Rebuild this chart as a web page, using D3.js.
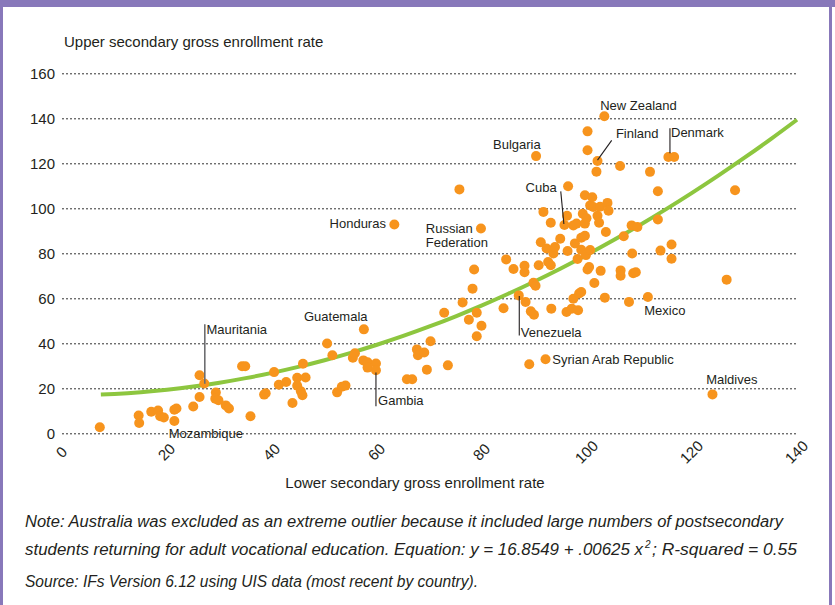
<!DOCTYPE html>
<html>
<head>
<meta charset="utf-8">
<script src="https://cdn.jsdelivr.net/npm/d3@7/dist/d3.min.js"></script>
<style>
  html, body { margin: 0; padding: 0; background: #fff; }
  svg { display: block; }
  text { font-family: "Liberation Sans", Arial, sans-serif; fill: #231f20; }
</style>
</head>
<body>
<svg id="chart" width="835" height="605"></svg>
<script>
// Country points: lower secondary (x) vs upper secondary (y) gross enrollment rate
const lowerRate = [
  7.2, 14.6, 14.7, 17.0, 18.3, 18.7, 19.4, 21.4, 21.8, 21.4,
  25.0, 26.2, 26.2, 27.1, 29.3, 29.2, 29.8, 31.2, 31.8, 34.3,
  34.9, 35.9, 38.5, 38.8, 40.4, 41.3, 42.7, 43.9, 44.8, 44.8,
  45.5, 45.8, 45.9, 46.4, 50.5, 51.5, 52.4, 53.3, 54.0, 55.4,
  55.8, 57.5, 57.4, 58.2, 58.2, 59.8, 59.8, 63.3, 65.7, 66.7,
  67.6, 67.8, 69.0, 69.5, 70.2, 72.8, 73.5, 75.7, 76.3, 77.5,
  78.2, 78.5, 79.0, 79.0, 79.9, 79.8, 84.1, 84.6, 86.0, 87.0,
  88.1, 88.1, 88.3, 89.0, 89.3, 89.9, 89.8, 90.2, 90.3, 90.8,
  91.2, 91.7, 92.1, 92.3, 92.6, 93.1, 93.1, 93.2, 93.6, 93.9,
  94.9, 95.7, 96.2, 96.4, 96.1, 96.3, 97.1, 97.4, 97.4, 97.7,
  98.0, 98.2, 98.3, 98.5, 98.9, 98.9, 98.9, 99.2, 99.6, 99.6,
  99.6, 99.8, 99.9, 100.1, 100.1, 100.1, 100.4, 100.6, 100.6, 101.0,
  101.2, 101.4, 101.8, 102.0, 102.0, 102.3, 102.5, 102.6, 103.3, 103.4,
  103.6, 103.9, 104.1, 106.3, 106.4, 106.4, 107.0, 108.0, 108.5, 108.6,
  108.8, 109.3, 109.6, 111.6, 112.0, 113.5, 113.5, 114.0, 115.5, 116.6,
  116.1, 116.1, 123.9, 126.6, 128.2
];
const upperRate = [
  2.7, 7.9, 4.6, 9.6, 10.1, 7.6, 7.0, 10.5, 11.0, 5.5,
  11.9, 16.1, 25.8, 22.1, 18.1, 15.4, 14.7, 12.4, 11.0, 29.8,
  29.8, 7.6, 17.2, 17.8, 27.2, 21.6, 22.8, 13.5, 24.7, 21.1,
  18.7, 16.9, 30.9, 24.8, 39.9, 34.7, 18.2, 20.7, 21.2, 33.6,
  35.6, 46.2, 32.4, 31.6, 29.2, 31.0, 28.0, 92.8, 24.0, 24.0,
  37.3, 34.7, 35.9, 28.3, 40.9, 53.6, 30.2, 108.4, 58.1, 50.5,
  64.3, 72.8, 53.6, 43.1, 47.8, 91.0, 55.6, 77.3, 73.0, 61.3,
  74.5, 71.6, 58.4, 30.7, 54.2, 52.7, 66.9, 65.6, 123.2, 74.7,
  84.9, 98.4, 32.9, 82.1, 76.1, 74.7, 93.6, 55.4, 79.9, 82.8,
  86.5, 92.6, 96.7, 109.8, 53.9, 81.0, 55.4, 92.4, 59.8, 84.4,
  93.2, 77.5, 54.7, 62.1, 62.8, 86.9, 81.6, 97.6, 105.8, 93.2,
  87.8, 79.2, 95.6, 72.8, 134.2, 125.8, 73.9, 101.3, 81.5, 104.9,
  100.6, 66.8, 116.3, 121.0, 96.7, 93.6, 100.7, 72.2, 140.9, 60.3,
  89.5, 102.4, 98.9, 118.8, 72.4, 70.0, 87.6, 58.4, 92.4, 79.9,
  71.1, 71.6, 91.7, 60.6, 116.2, 107.6, 95.0, 81.2, 122.8, 122.8,
  83.9, 77.6, 17.3, 68.3, 108.0
];

const xTicks = [0, 20, 40, 60, 80, 100, 120, 140];
const yTicks = [0, 20, 40, 60, 80, 100, 120, 140, 160];

// Fitted quadratic: y = 16.8549 + 0.00625 x^2
const fitIntercept = 16.8549;
const fitCoef = 0.00625;
const fitXs = [7.4, 10, 15, 20, 25, 30, 35, 40, 45, 50, 55, 60, 65, 70, 75, 80, 85, 90,
               95, 100, 105, 110, 115, 120, 125, 130, 135, 140];

// Labelled countries
const countryNames = ["Mauritania", "Mozambique", "Guatemala", "Gambia", "Honduras",
  "Russian Federation", "Bulgaria", "Cuba", "New Zealand", "Finland", "Denmark",
  "Venezuela", "Syrian Arab Republic", "Mexico", "Maldives"];
const labelX = [27.5, 27.4, 58.2, 60.2, 61.7, 69.3, 82.1, 88.3, 102.5, 105.5, 116.0, 87.4, 93.4, 110.9, 122.7];
const labelY = [44.2, -2.0, 49.9, 12.6, 91.1, 89.2, 126.5, 107.3, 143.6, 131.3, 131.5, 42.7, 30.9, 52.7, 21.8];
const labelAnchor = ["start", "middle", "end", "start", "end", "start", "start", "start",
  "start", "start", "start", "start", "start", "start", "start"];

// Leader lines [x1, y1] -> [x2, y2]
const leaderX1 = [27.2, 59.8, 95.0, 104.7, 115.8, 87.1];
const leaderY1 = [48.5, 27.0, 107.5, 130.2, 135.6, 61.0];
const leaderX2 = [27.2, 59.8, 95.6, 102.0, 115.8, 87.1];
const leaderY2 = [22.0, 12.0, 93.0, 121.4, 124.5, 43.5];

const svg = d3.select("#chart");
const W = 835, H = 605;

const x = d3.scaleLinear().domain([0, 140]).range([62, 797]);
const y = d3.scaleLinear().domain([0, 160]).range([433.3, 73.3]);

// frame
svg.append("rect").attr("x", 0).attr("y", 0).attr("width", W).attr("height", 7).attr("fill", "#8878ba");
svg.append("rect").attr("x", 0).attr("y", 0).attr("width", 3).attr("height", H).attr("fill", "#8878ba");
svg.append("rect").attr("x", 829).attr("y", 0).attr("width", 3).attr("height", H).attr("fill", "#8878ba");

// y grid + labels
const yAxis = d3.axisLeft(y).tickValues(yTicks).tickSize(-(x.range()[1] - x.range()[0])).tickPadding(7);
const yg = svg.append("g").attr("transform", `translate(${x.range()[0]},0)`).call(yAxis);
yg.select(".domain").remove();
yg.selectAll(".tick line").attr("stroke", "#333").attr("stroke-width", 1).attr("stroke-dasharray", "2,2");
yg.selectAll(".tick text").attr("font-size", 15).attr("fill", "#231f20")
  .attr("font-family", '"Liberation Sans", Arial, sans-serif');

// x labels (rotated)
const xAxis = d3.axisBottom(x).tickValues(xTicks).tickSize(0).tickPadding(0);
const xg = svg.append("g").attr("transform", "translate(0,452)").call(xAxis);
xg.select(".domain").remove();
xg.selectAll(".tick text")
  .attr("font-size", 15).attr("fill", "#231f20")
  .attr("font-family", '"Liberation Sans", Arial, sans-serif')
  .attr("text-anchor", "middle").attr("dy", "0.35em")
  .attr("transform", "translate(-1,0) rotate(-45)");

// axis titles
svg.append("text").attr("x", 64).attr("y", 47).attr("font-size", 15)
  .text("Upper secondary gross enrollment rate");
svg.append("text").attr("x", 415).attr("y", 488).attr("font-size", 15).attr("text-anchor", "middle")
  .text("Lower secondary gross enrollment rate");

// fitted curve
const line = d3.line().x(d => x(d)).y(d => y(fitIntercept + fitCoef * d * d)).curve(d3.curveMonotoneX);
svg.append("path").attr("d", line(fitXs)).attr("fill", "none")
  .attr("stroke", "#8dc63f").attr("stroke-width", 4);

// points
const pts = lowerRate.map((v, i) => [v, upperRate[i]]);
svg.append("g").selectAll("circle").data(pts).join("circle")
  .attr("cx", d => x(d[0])).attr("cy", d => y(d[1])).attr("r", 5)
  .attr("fill", "#f7941d");

// country labels
const labelG = svg.append("g");
countryNames.forEach((name, i) => {
  const t = labelG.append("text").attr("font-size", 13).attr("text-anchor", labelAnchor[i])
    .attr("x", x(labelX[i])).attr("y", y(labelY[i]));
  if (name === "Russian Federation") {
    t.append("tspan").attr("x", x(labelX[i])).text("Russian");
    t.append("tspan").attr("x", x(labelX[i])).attr("dy", 14.5).text("Federation");
  } else {
    t.text(name);
  }
});

// leader lines
leaderX1.forEach((v, i) => {
  svg.append("line")
    .attr("x1", x(v)).attr("y1", y(leaderY1[i]))
    .attr("x2", x(leaderX2[i])).attr("y2", y(leaderY2[i]))
    .attr("stroke", i === 0 ? "#6d6e71" : "#231f20").attr("stroke-width", i === 0 ? 1.6 : 1.1);
});

// notes
const note = svg.append("g").attr("font-style", "italic").attr("font-size", 16);
note.append("text").attr("x", 25).attr("y", 527)
  .attr("textLength", 758).attr("lengthAdjust", "spacingAndGlyphs")
  .text("Note: Australia was excluded as an extreme outlier because it included large numbers of postsecondary");
note.append("text").attr("x", 25).attr("y", 555)
  .attr("textLength", 618).attr("lengthAdjust", "spacingAndGlyphs")
  .text("students returning for adult vocational education. Equation: y = 16.8549 + .00625 x");
note.append("text").attr("x", 645).attr("y", 548).attr("font-size", 10).text("2");
note.append("text").attr("x", 652).attr("y", 555)
  .attr("textLength", 145).attr("lengthAdjust", "spacingAndGlyphs")
  .text("; R-squared = 0.55");
note.append("text").attr("x", 25).attr("y", 587)
  .attr("textLength", 453).attr("lengthAdjust", "spacingAndGlyphs")
  .text("Source: IFs Version 6.12 using UIS data (most recent by country).");
</script>
</body>
</html>
